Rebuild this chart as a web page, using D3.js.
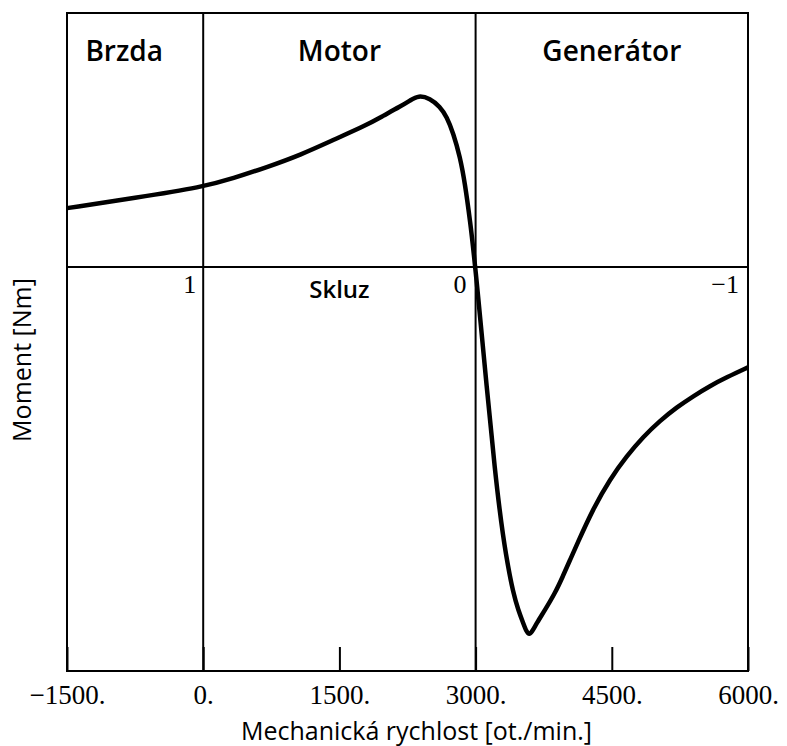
<!DOCTYPE html>
<html lang="cs">
<head>
<meta charset="UTF-8">
<title>Moment - rychlost</title>
<script src="https://cdn.jsdelivr.net/npm/d3@7/dist/d3.min.js"></script>
<style>
  body { margin: 0; background: #fff; }
  .sans { font-family: "Open Sans", sans-serif; }
  .serif { font-family: "Liberation Serif", serif; }
</style>
</head>
<body>
<script>

// mechanical speed [ot./min.] and torque (arbitrary units)
var speed  = [-1500, -750, 0, 330, 700, 1070, 1430, 1800, 1980, 2170, 2280, 2369, 2498, 2608, 2682, 2755, 2828, 2883, 2938, 3000,
              3230, 3342, 3415, 3470, 3525, 3560, 3591, 3622, 3673, 3764, 3874, 3959, 4040, 4113, 4296, 4480, 4664, 4847,
              5031, 5215, 5398, 5581, 5765, 6000];
var torque = [23.2, 27.2, 31.5, 34.9, 39.3, 44.1, 50, 55.9, 59.5, 63.2, 65.6, 67.6, 66.4, 63.1, 59.2, 52.6, 43.4, 32.9, 18.5, 0,
              -88.9, -115.3, -128.4, -135, -140.2, -143.5, -144.8, -143.5, -140.2, -135, -128.4, -121.9, -115.3, -109.4, -95, -83.5, -74.4, -66.8,
              -60.5, -55.2, -50.8, -46.8, -43.4, -39.5];

var speedTicks = [-1500, 0, 1500, 3000, 4500, 6000];
var dividers = [0, 3000];                 // full height lines
var regionNames = ["Brzda", "Motor", "Generátor"];
var regionCenters = [-870, 1500, 4500];
var slipLabels = ["1", "0", "\u22121"];
var slipAt = [0, 3000, 6000];

var W = 787, H = 746;
var pL = 67, pR = 748, pT = 13, pB = 671;

var svg = d3.select("body").append("svg").attr("width", W).attr("height", H);

var x = d3.scaleLinear().domain([-1500, 6000]).range([pL, pR]);
var y = d3.scaleLinear().domain([-159, 100]).range([pB, pT]);

// frame
svg.append("rect")
	.attr("x", pL).attr("y", pT)
	.attr("width", pR - pL).attr("height", pB - pT)
	.attr("fill", "none").attr("stroke", "#000").attr("stroke-width", 2);

// zero torque line
svg.append("line")
	.attr("x1", pL).attr("x2", pR)
	.attr("y1", y(0)).attr("y2", y(0))
	.attr("stroke", "#000").attr("stroke-width", 2);

svg.selectAll("line.div").data(dividers).enter().append("line")
	.attr("class", "div")
	.attr("x1", d => x(d)).attr("x2", d => x(d))
	.attr("y1", pT).attr("y2", pB)
	.attr("stroke", "#000").attr("stroke-width", 2);

// x axis, ticks point up into the plot
var ax = svg.append("g")
	.attr("transform", "translate(0," + pB + ")")
	.call(d3.axisBottom(x).tickValues(speedTicks).tickSizeInner(-24).tickSizeOuter(0)
		.tickFormat(d => (d < 0 ? "\u2212" : "") + Math.abs(d) + "."));
ax.select(".domain").remove();
ax.selectAll(".tick line").attr("stroke-width", 2);
ax.selectAll(".tick text")
	.attr("class", "serif")
	.attr("y", 33).attr("dy", 0)
	.attr("font-size", 27).attr("fill", "#000");

// curve
var line = d3.line()
	.x((d, i) => x(speed[i]))
	.y((d, i) => y(torque[i]))
	.curve(d3.curveBasis);

svg.append("path")
	.datum(torque)
	.attr("d", line)
	.attr("fill", "none")
	.attr("stroke", "#000")
	.attr("stroke-width", 4.5)
	.attr("stroke-linejoin", "round");

// region names
svg.selectAll("text.reg").data(regionNames).enter().append("text")
	.attr("class", "reg sans")
	.attr("x", (d, i) => x(regionCenters[i]))
	.attr("y", 61)
	.attr("text-anchor", "middle")
	.attr("font-size", 28)
	.attr("font-weight", 600)
	.text(d => d);

// slip scale along zero line
svg.selectAll("text.slip").data(slipLabels).enter().append("text")
	.attr("class", "slip serif")
	.attr("x", (d, i) => x(slipAt[i]) - (i == 0 ? 7 : 9))
	.attr("y", y(0) + 26)
	.attr("text-anchor", "end")
	.attr("font-size", 26)
	.text(d => d);

svg.append("text")
	.attr("class", "sans")
	.attr("x", x(1500)).attr("y", y(0) + 31)
	.attr("text-anchor", "middle")
	.attr("font-size", 24)
	.attr("font-weight", 600)
	.text("Skluz");

// axis titles
svg.append("text")
	.attr("class", "sans")
	.attr("x", (pL + pR) / 2 + 9).attr("y", 740)
	.attr("text-anchor", "middle")
	.attr("font-size", 25)
	.attr("font-weight", 500)
	.text("Mechanická rychlost [ot./min.]");

svg.append("text")
	.attr("class", "sans")
	.attr("transform", "translate(31,360) rotate(-90)")
	.attr("text-anchor", "middle")
	.attr("font-size", 25)
	.attr("font-weight", 500)
	.text("Moment [Nm]");

</script>
</body>
</html>
